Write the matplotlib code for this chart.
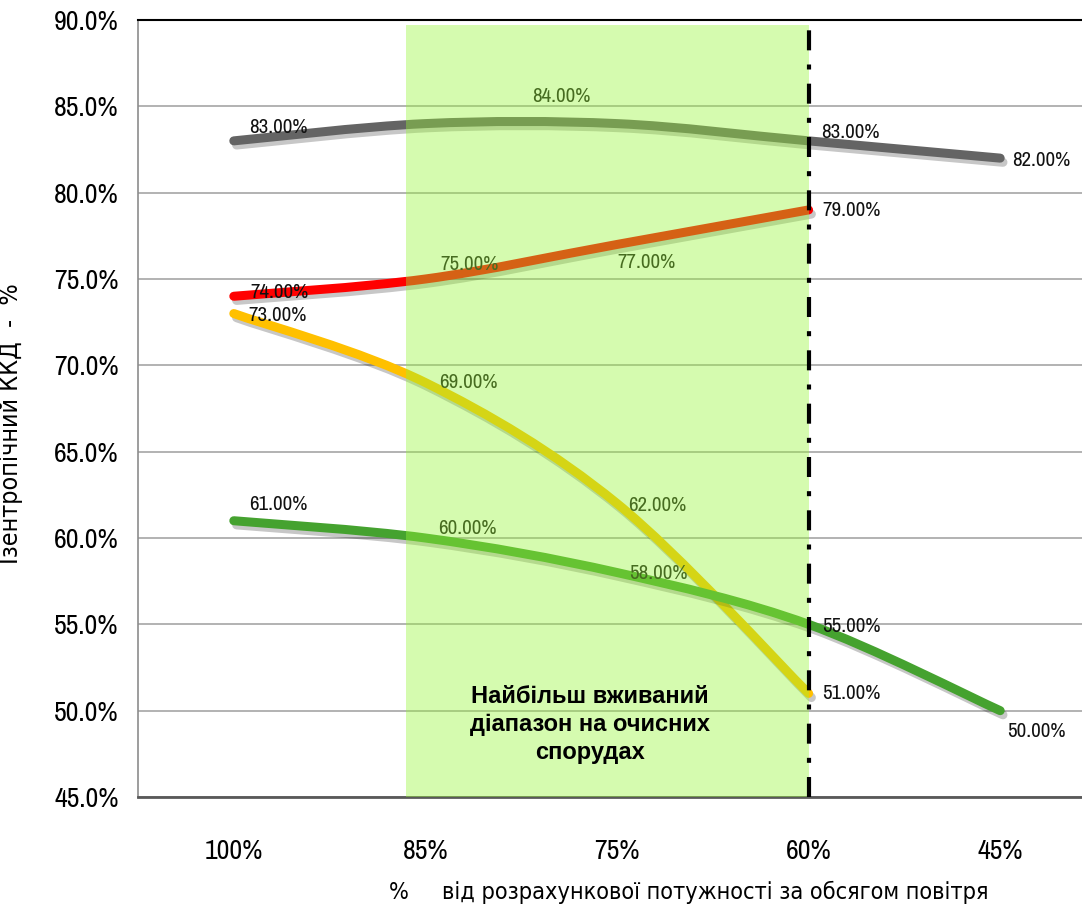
import matplotlib
matplotlib.use('Agg')
import matplotlib.pyplot as plt
import matplotlib.patheffects as pe
from matplotlib.path import Path
from matplotlib.patches import PathPatch

## data
categories = ['100%', '85%', '75%', '60%', '45%']
grey_vals = [83, 84, 84, 83, 82]
red_vals = [74, 75, 77, 79]
yellow_vals = [73, 69, 62, 51]
green_vals = [61, 60, 58, 55, 50]
y_ticks = [45, 50, 55, 60, 65, 70, 75, 80, 85, 90]
range_start, range_end = 0.9, 3.0     # most used range (85%..60%)
range_text = 'Найбільш вживаний\nдіапазон на очисних\nспорудах'
y_title = 'Ізентропічний ККД  -  %'
x_title = '%     від розрахункової потужності за обсягом повітря'

# label offsets in pixels (dx, dy) per point, None = no label
grey_off = [(15, 13), None, (-85, 27), (13, 8), (12, -2)]
red_off = [(17, 4), (15, 15), (0, -18), (14, -1)]
yellow_off = [(15, -2), (14, 0), (11, -2), (14, 0)]
green_off = [(15, 16), (13, 10), (12, -1), (14, -2), (7, -21)]

narrow = ['Archivo Narrow', 'Roboto Condensed', 'DejaVu Sans']

W, H = 1082, 908
fig = plt.figure(figsize=(W/100, H/100), dpi=100)
ax = fig.add_axes([138/W, 1-797/H, (1096-138)/W, (797-20)/H])
ax.set_xlim(-0.5, 4.5)
ax.set_ylim(45, 90)


def smooth_path(xs, ys):
    # excel style smoothed line as cubic bezier segments
    pts = list(zip(xs, ys))
    n = len(pts)
    verts = [pts[0]]
    codes = [Path.MOVETO]
    for i in range(n-1):
        p0 = pts[i-1] if i > 0 else pts[i]
        p1 = pts[i]
        p2 = pts[i+1]
        p3 = pts[i+2] if i+2 < n else pts[i+1]
        c1 = (p1[0]+(p2[0]-p0[0])/6, p1[1]+(p2[1]-p0[1])/6)
        c2 = (p2[0]-(p3[0]-p1[0])/6, p2[1]-(p3[1]-p1[1])/6)
        verts += [c1, c2, p2]
        codes += [Path.CURVE4]*3
    return Path(verts, codes)


def draw_series(vals, color, offs):
    xs = list(range(len(vals)))
    patch = PathPatch(smooth_path(xs, vals), fill=False, edgecolor=color, lw=6.5,
                      capstyle='round', joinstyle='round', zorder=3)
    patch.set_path_effects([pe.SimpleLineShadow(offset=(2, -3), shadow_color='k', alpha=0.22),
                            pe.Normal()])
    ax.add_patch(patch)
    for x, v, o in zip(xs, vals, offs):
        if o is None:
            continue
        ax.annotate(f'{v:.2f}%', (x, v), xytext=o, textcoords='offset pixels',
                    ha='left', va='center', fontsize=15, family=narrow, color='#111111', zorder=4)


draw_series(grey_vals, '#646464', grey_off)
draw_series(red_vals, '#FF0000', red_off)
draw_series(yellow_vals, '#FFC000', yellow_off)
draw_series(green_vals, '#45A22F', green_off)

# translucent green band on top of everything (tints lines and labels)
ax.axvspan(range_start, range_end, ymin=0, ymax=0.994, color='#98F537', alpha=0.4, lw=0, zorder=5)
ax.axvline(range_end, color='black', lw=3, dashes=(4.8, 3.4, 1.2, 3.4), zorder=6)
ax.text((range_start+range_end)/2 - 0.09, 51.5, range_text, ha='center', va='top',
        fontsize=17, fontweight='bold', family='Liberation Sans', linespacing=1.28, zorder=7)

ax.set_yticks(y_ticks)
ax.set_yticklabels([f'{t:.1f}%' for t in y_ticks])
ax.set_xticks(range(len(categories)))
ax.set_xticklabels(categories)
ax.tick_params(axis='both', length=0, labelsize=20)
ax.tick_params(axis='y', pad=14)
ax.tick_params(axis='x', pad=30)
for lab in ax.get_xticklabels() + ax.get_yticklabels():
    lab.set_family(narrow)
ax.grid(axis='y', color='#A6A6A6', lw=1.2, zorder=1)
ax.set_axisbelow(True)
ax.spines['right'].set_visible(False)
ax.spines['top'].set_color('black')
ax.spines['top'].set_linewidth(1.5)
ax.spines['left'].set_color('#8C8C8C')
ax.spines['left'].set_linewidth(1.2)
ax.spines['bottom'].set_color('#595959')
ax.spines['bottom'].set_linewidth(2)

ax.set_ylabel(y_title, fontsize=18, family='DejaVu Sans', fontstretch='condensed')
ax.yaxis.set_label_coords((23-138)/958, (797-424)/777)
fig.text(689/W, 1-892/H, x_title, ha='center', va='center', fontsize=16.8,
         family='DejaVu Sans', fontstretch='condensed')

fig.savefig('out.png', dpi=100)
